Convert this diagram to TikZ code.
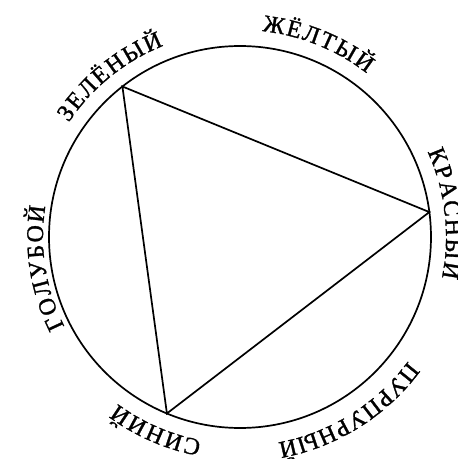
\documentclass[tikz,border=0pt]{standalone}
\usepackage{fontspec}
\newfontfamily\labfam[Scale=2.4,FakeBold=1.2]{Liberation Serif}
\newcommand\LabFont{\labfam}
\newlength\arcw
\newlength\arcpos
\newsavebox\arcbox
% #1 name, #2 centre angle, #3 baseline radius, #4 letter spacing (pt), #5 letters
\newcommand\prepArc[5]{%
  \global\arcw=0pt
  \foreach \ch in {#5}{%
    \sbox\arcbox{\LabFont\ch}%
    \global\advance\arcw by \wd\arcbox
    \global\advance\arcw by #4pt
  }%
  \global\advance\arcw by -#4pt
  \global\arcpos=-0.5\arcw
  \gdef\arclist{}%
  \foreach \ch in {#5}{%
    \sbox\arcbox{\LabFont\ch}%
    \pgfmathsetmacro\ang{#2-(\the\arcpos+0.5*\the\wd\arcbox)/#3*180/pi}%
    \ifx\arclist\empty\xdef\arclist{\ang/\ch}\else\xdef\arclist{\arclist,\ang/\ch}\fi
    \global\advance\arcpos by \wd\arcbox
    \global\advance\arcpos by #4pt
  }%
  \expandafter\global\expandafter\let\csname arc@#1\endcsname\arclist
  \expandafter\xdef\csname arcr@#1\endcsname{#3}%
}
\newcommand\placeArc[1]{%
  \expandafter\let\expandafter\curlist\csname arc@#1\endcsname
  \edef\currad{\csname arcr@#1\endcsname}%
  \foreach \a/\ch [count=\k] in \curlist {%
    \node[lab, rotate=\a-90] (#1-\k) at ([shift={(\a:\currad)}]wheel.center) {\ch};
  }%
}
\begin{document}
\prepArc{yel}{68}{207}{1.8}{Ж,Ё,Л,Т,Ы,Й}
\prepArc{grn}{129}{206}{1.8}{З,Е,Л,Ё,Н,Ы,Й}
\prepArc{cyn}{189}{197}{1.8}{Г,О,Л,У,Б,О,Й}
\prepArc{blu}{246.5}{207}{1.8}{С,И,Н,И,Й}
\prepArc{mag}{302}{209}{0.8}{П,У,Р,П,У,Р,Н,Ы,Й}
\prepArc{red}{6.5}{206}{1.8}{К,Р,А,С,Н,Ы,Й}
\begin{tikzpicture}[x=1pt,y=1pt,
  lab/.style={font=\LabFont,inner sep=0pt,anchor=base},
  rim/.style={line width=1.7pt}]
\useasboundingbox (0,0) rectangle (458,459);
\node[circle, draw, rim, minimum size=382pt, inner sep=0pt, outer sep=0pt] (wheel) at (240,222) {};
\coordinate (vG) at ([shift={(128:191)}]wheel.center);
\coordinate (vR) at ([shift={(7.5:191)}]wheel.center);
\coordinate (vB) at ([shift={(247.5:191)}]wheel.center);
\draw[rim, line join=miter] (vG) -- (vR) -- (vB) -- cycle;
\placeArc{yel}
\placeArc{grn}
\placeArc{cyn}
\placeArc{blu}
\placeArc{mag}
\placeArc{red}
\end{tikzpicture}
\end{document}
